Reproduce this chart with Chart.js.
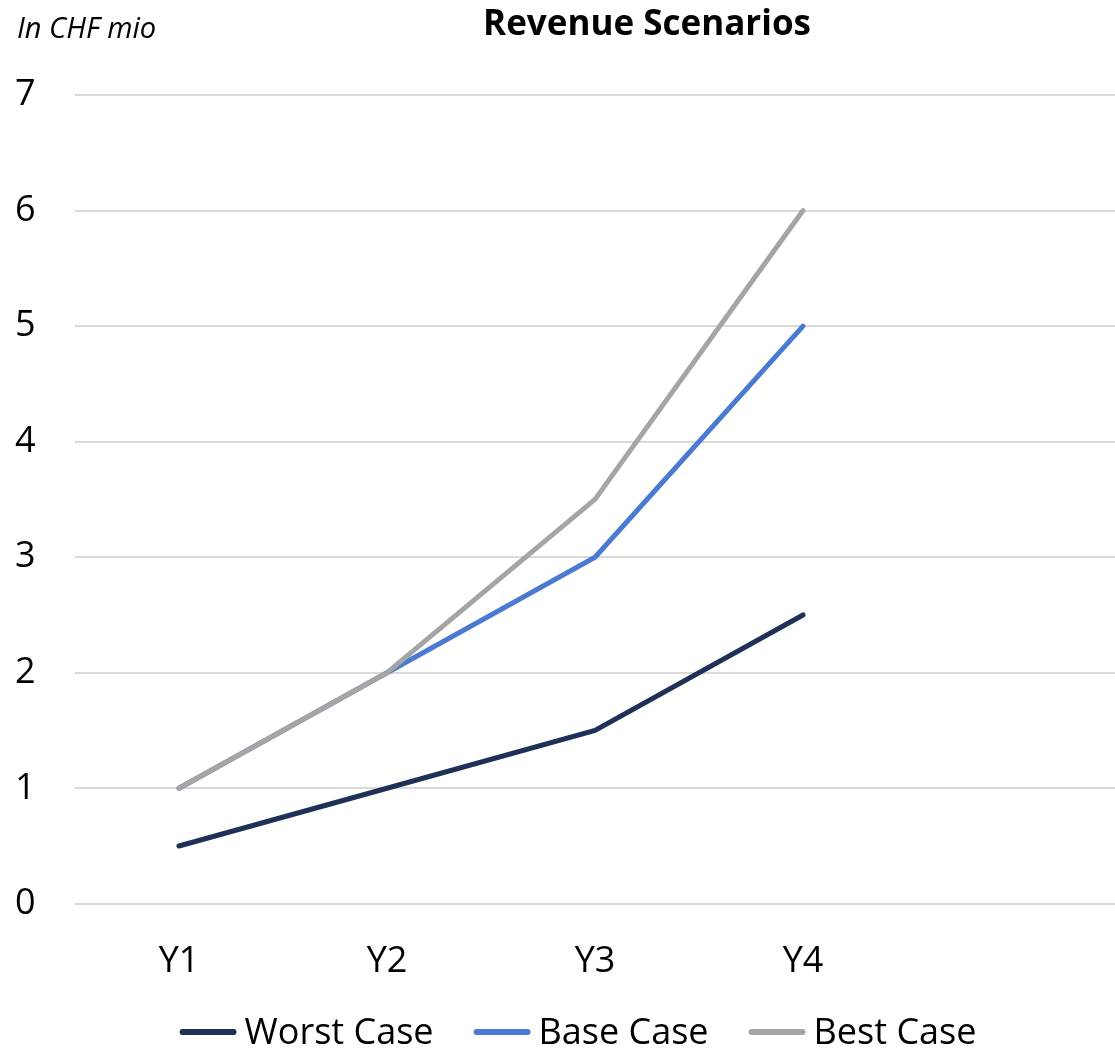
<!DOCTYPE html>
<html>
<head>
<meta charset="utf-8">
<script src="https://cdn.jsdelivr.net/npm/chart.js@4.4.1/dist/chart.umd.min.js"></script>
<style>
  html, body { margin: 0; padding: 0; background: #fff; }
  #wrap { width: 1115px; height: 1051px; position: relative; }
</style>
</head>
<body>
<div id="wrap"><canvas id="chart"></canvas></div>
<script>
const years = ['Y1', 'Y2', 'Y3', 'Y4', ''];
const worstCase = [0.5, 1, 1.5, 2.5];
const baseCase = [1, 2, 3, 5];
const bestCase = [1, 2, 3.5, 6];

const FONT = "'Open Sans', 'Liberation Sans', sans-serif";

// title + unit note drawn on the canvas
const headerText = {
    id: 'headerText',
    afterDraw(chart) {
        const ctx = chart.ctx;
        ctx.save();
        ctx.fillStyle = '#000';
        ctx.textBaseline = 'middle';
        ctx.font = `bold 35px ${FONT}`;
        ctx.textAlign = 'center';
        ctx.fillText('Revenue Scenarios', 647, 25);
        ctx.font = `italic 29px ${FONT}`;
        ctx.textAlign = 'left';
        ctx.fillText('In CHF mio', 17, 30);
        ctx.restore();
    }
};

// legend drawn from the datasets, Excel style (short line + label)
const lineLegend = {
    id: 'lineLegend',
    afterDraw(chart) {
        const ctx = chart.ctx;
        const y = 1032, lineLen = 57, textGap = 8, itemGap = 40;
        ctx.save();
        ctx.font = `36px ${FONT}`;
        ctx.textBaseline = 'middle';
        ctx.textAlign = 'left';
        const sets = chart.data.datasets;
        const widths = sets.map(ds => lineLen + textGap + ctx.measureText(ds.label).width);
        const total = widths.reduce((a, b) => a + b, 0) + itemGap * (sets.length - 1);
        let x = 578 - total / 2;
        sets.forEach((ds, i) => {
            ctx.strokeStyle = ds.borderColor;
            ctx.lineWidth = 6;
            ctx.lineCap = 'round';
            ctx.beginPath();
            ctx.moveTo(x + 3, y);
            ctx.lineTo(x + lineLen - 3, y);
            ctx.stroke();
            ctx.fillStyle = '#000';
            ctx.fillText(ds.label, x + lineLen + textGap, y + 2);
            x += widths[i] + itemGap;
        });
        ctx.restore();
    }
};

window.onload = function () {
    new Chart(document.getElementById('chart'), {
        type: 'line',
        data: {
            labels: years,
            datasets: [
                { label: 'Worst Case', data: worstCase, borderColor: '#1f3157', backgroundColor: '#1f3157', order: 2 },
                { label: 'Base Case', data: baseCase, borderColor: '#4a7bd0', backgroundColor: '#4a7bd0', order: 1 },
                { label: 'Best Case', data: bestCase, borderColor: '#a5a5a5', backgroundColor: '#a5a5a5', order: 0 }
            ]
        },
        options: {
            responsive: true,
            maintainAspectRatio: false,
            animation: false,
            devicePixelRatio: 1,
            layout: { padding: { top: 95, left: 15, right: 0, bottom: 40 } },
            elements: {
                line: { borderWidth: 5, tension: 0, borderCapStyle: 'round' },
                point: { radius: 0, hoverRadius: 0 }
            },
            scales: {
                x: {
                    offset: true,
                    grid: { display: false },
                    border: { display: false },
                    ticks: { color: '#000', font: { family: FONT, size: 36 }, padding: 28 }
                },
                y: {
                    min: 0,
                    max: 7,
                    grid: { color: '#d9d9d9', lineWidth: 2, drawTicks: false },
                    border: { display: false },
                    afterFit(scale) { scale.width = 60; },
                    ticks: {
                        stepSize: 1,
                        color: '#000',
                        crossAlign: 'far',
                        padding: 10,
                        font: { family: FONT, size: 36 }
                    }
                }
            },
            plugins: {
                title: { display: false },
                tooltip: { enabled: false },
                legend: { display: false }
            }
        },
        plugins: [headerText, lineLegend]
    });
};
</script>
</body>
</html>
